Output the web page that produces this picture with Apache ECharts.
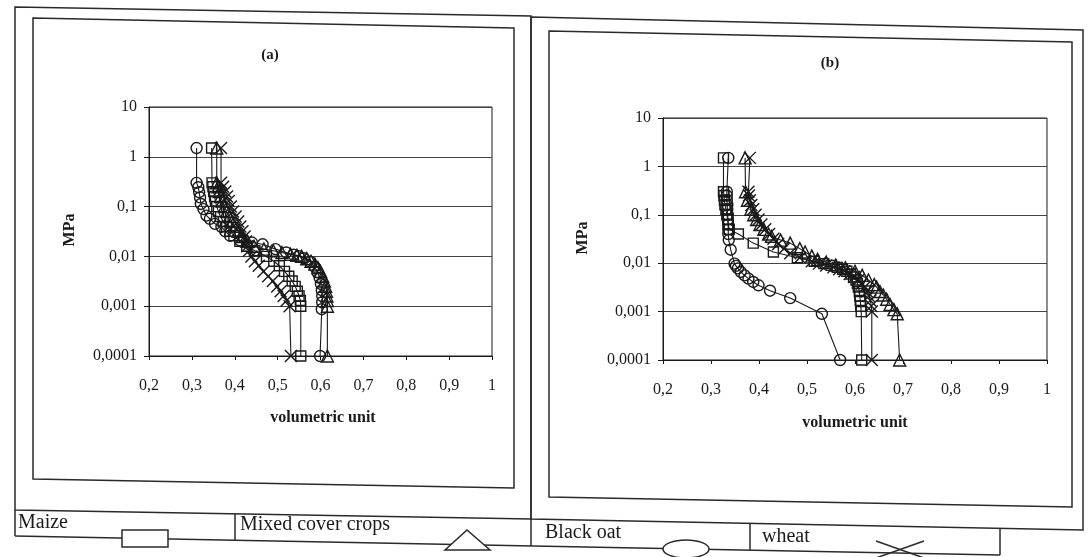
<!DOCTYPE html>
<html><head><meta charset="utf-8">
<script src="https://cdn.jsdelivr.net/npm/echarts/dist/echarts.min.js"></script>
<style>html,body{margin:0;padding:0;background:#fff}#c{width:1089px;height:557px}</style>
</head><body><div id="c"></div>
<script>
// ---- tick labels / names ----
const xTickLabels = ['0,2','0,3','0,4','0,5','0,6','0,7','0,8','0,9','1'];
const yTickLabels = ['0,0001','0,001','0,01','0,1','1','10'];
const seriesNames = ['Maize','Mixed cover crops','Black oat','wheat'];
const panelTitles = ['(a)','(b)'];
const xAxisName = 'volumetric unit';
const yAxisName = 'MPa';

// ---- panel (a) ----
const maizeA_p = [1.5,0.3,0.25,0.2,0.16,0.13,0.1,0.08,0.063,0.05,0.04,0.032,0.026,0.02,0.016,0.013,0.01,0.008,0.0065,0.005,0.004,0.0032,0.0025,0.002,0.0016,0.0013,0.001,0.0001];
const maizeA_v = [0.346,0.347,0.349,0.351,0.353,0.355,0.358,0.362,0.367,0.373,0.381,0.389,0.398,0.412,0.428,0.447,0.474,0.491,0.504,0.516,0.526,0.534,0.541,0.546,0.550,0.553,0.554,0.554];

const mixedA_p = [1.5,0.3,0.25,0.2,0.16,0.13,0.1,0.08,0.063,0.05,0.04,0.032,0.025,0.02,0.016,0.014,0.013,0.012,0.011,0.0105,0.01,0.009,0.008,0.007,0.006,0.005,0.004,0.0032,0.0025,0.002,0.0016,0.0013,0.001,0.0001];
const mixedA_v = [0.358,0.358,0.361,0.364,0.367,0.371,0.376,0.381,0.387,0.393,0.400,0.408,0.418,0.430,0.445,0.468,0.490,0.510,0.530,0.545,0.556,0.568,0.578,0.587,0.594,0.600,0.605,0.609,0.612,0.614,0.615,0.616,0.616,0.616];

const blackA_p = [1.5,0.3,0.245,0.195,0.153,0.113,0.089,0.066,0.057,0.045,0.039,0.032,0.026,0.021,0.019,0.0175,0.014,0.012,0.0108,0.0101,0.0092,0.0078,0.0062,0.0048,0.0037,0.0028,0.0021,0.0016,0.0012,0.00087,0.0001];
const blackA_v = [0.311,0.311,0.315,0.317,0.319,0.321,0.327,0.334,0.342,0.354,0.369,0.378,0.389,0.412,0.440,0.465,0.495,0.520,0.537,0.549,0.561,0.576,0.586,0.593,0.598,0.601,0.603,0.604,0.604,0.603,0.599];

const wheatA_p = [1.5,0.3,0.25,0.2,0.16,0.13,0.1,0.08,0.063,0.05,0.04,0.032,0.025,0.02,0.016,0.013,0.01,0.008,0.0065,0.005,0.004,0.0032,0.0025,0.002,0.0016,0.0013,0.001,0.0001];
const wheatA_v = [0.368,0.368,0.373,0.378,0.382,0.386,0.391,0.396,0.402,0.408,0.413,0.418,0.423,0.426,0.429,0.433,0.439,0.447,0.456,0.467,0.478,0.489,0.499,0.507,0.514,0.521,0.528,0.531];

// ---- panel (b) ----
const maizeB_p = [1.5,0.3,0.25,0.2,0.16,0.13,0.1,0.08,0.063,0.05,0.04,0.026,0.017,0.013,0.011,0.0098,0.009,0.0082,0.0075,0.0068,0.006,0.0052,0.0045,0.0038,0.0032,0.0026,0.0021,0.0017,0.0013,0.001,0.0001];
const maizeB_v = [0.326,0.326,0.327,0.328,0.329,0.331,0.333,0.335,0.336,0.338,0.357,0.388,0.430,0.480,0.515,0.535,0.550,0.563,0.574,0.583,0.591,0.597,0.602,0.605,0.607,0.609,0.610,0.611,0.612,0.613,0.614];

const mixedB_p = [1.5,0.3,0.2,0.13,0.1,0.08,0.063,0.05,0.04,0.036,0.03,0.026,0.02,0.017,0.014,0.012,0.0105,0.0092,0.008,0.0068,0.0056,0.0045,0.0036,0.0032,0.0026,0.0022,0.0018,0.0014,0.0011,0.0009,0.0001];
const mixedB_v = [0.371,0.372,0.376,0.383,0.389,0.395,0.402,0.410,0.420,0.426,0.445,0.465,0.485,0.496,0.510,0.522,0.540,0.560,0.580,0.600,0.615,0.628,0.640,0.645,0.652,0.659,0.666,0.673,0.681,0.688,0.693];

const blackB_p = [1.5,0.3,0.25,0.2,0.16,0.13,0.1,0.08,0.063,0.05,0.04,0.03,0.019,0.0098,0.0088,0.0078,0.0066,0.0056,0.0048,0.0041,0.0035,0.0027,0.0019,0.0009,0.0001];
const blackB_v = [0.336,0.333,0.333,0.333,0.334,0.334,0.335,0.335,0.336,0.336,0.336,0.337,0.341,0.349,0.352,0.356,0.362,0.370,0.378,0.388,0.399,0.423,0.465,0.531,0.569];

const wheatB_p = [1.5,0.3,0.25,0.2,0.16,0.13,0.1,0.08,0.063,0.05,0.04,0.032,0.025,0.02,0.016,0.013,0.011,0.0098,0.009,0.0082,0.0075,0.0068,0.006,0.0052,0.0045,0.0038,0.0032,0.0026,0.0021,0.0017,0.0013,0.001,0.0001];
const wheatB_v = [0.381,0.378,0.379,0.381,0.384,0.388,0.393,0.399,0.405,0.413,0.421,0.430,0.440,0.452,0.465,0.485,0.510,0.525,0.540,0.555,0.567,0.578,0.589,0.598,0.607,0.614,0.620,0.625,0.629,0.632,0.634,0.635,0.635];

// ---- build ----
const INK = '#1a1a1a';
const FONT = '"Liberation Serif", "DejaVu Serif", serif';
const symbols = ['rect','triangle','circle','path://M0,0L10,10M10,0L0,10'];
const symbolSizes = [10,12,11,12];
function pts(p, v){ return p.map((pp,i)=>[v[i], pp]); }
const panelData = [
  [[maizeA_p,maizeA_v],[mixedA_p,mixedA_v],[blackA_p,blackA_v],[wheatA_p,wheatA_v]],
  [[maizeB_p,maizeB_v],[mixedB_p,mixedB_v],[blackB_p,blackB_v],[wheatB_p,wheatB_v]]
];
const series = [];
panelData.forEach((panel, gi)=>{
  panel.forEach((s, si)=>{
    series.push({
      type:'line', name: seriesNames[si], xAxisIndex: gi, yAxisIndex: gi,
      data: pts(s[0], s[1]), symbol: symbols[si], symbolSize: symbolSizes[si],
      showAllSymbol: true, clip: false, animation: false,
      lineStyle:{color: INK, width: 1.1},
      itemStyle:{color:'rgba(255,255,255,0)', borderColor: INK, borderWidth: 1.4},
      emphasis:{disabled:true}
    });
  });
});

const grids = [
  {left:149, top:107, width:343, height:249},
  {left:663, top:118, width:384, height:242}
];
function xAx(gi){
  return {type:'value', gridIndex:gi, min:0.2, max:1, interval:0.1,
    axisLine:{lineStyle:{color:INK,width:1}}, axisTick:{show:true,length:4,lineStyle:{color:INK}},
    splitLine:{show:false},
    axisLabel:{margin:22, color:INK, fontFamily:FONT, fontSize:16,
      formatter:(v)=>{const k=Math.round((v-0.2)*10); return xTickLabels[k]===undefined?'':xTickLabels[k];}}};
}
function yAx(gi){
  return {type:'log', logBase:10, gridIndex:gi, min:0.0001, max:10,
    axisLine:{show:true,lineStyle:{color:INK,width:1}}, axisTick:{show:true,length:5,lineStyle:{color:INK}},
    splitLine:{show:true,lineStyle:{color:'#444',width:1}},
    minorTick:{show:false}, minorSplitLine:{show:false},
    axisLabel:{margin:12, color:INK, fontFamily:FONT, fontSize:16,
      formatter:(v)=>{const k=Math.round(Math.log10(v))+4; return yTickLabels[k]===undefined?'':yTickLabels[k];}}};
}

const boxStyle = {fill:'none', stroke:'#2a2a2a', lineWidth:1.5};
const lineStyle = {stroke:'#2a2a2a', lineWidth:1.5};
const wStyle = {fill:'#fff', stroke:'#2a2a2a', lineWidth:1.5};
const graphic = [
  // panel frames
  {type:'polygon', shape:{points:[[15,7],[531,16],[531,519],[15,510]]}, style:boxStyle, silent:true},
  {type:'polygon', shape:{points:[[531,17],[1083,30],[1083,530],[531,519]]}, style:boxStyle, silent:true},
  {type:'polygon', shape:{points:[[33,18],[514,28],[514,488],[33,479]]}, style:boxStyle, silent:true},
  {type:'polygon', shape:{points:[[549,31],[1072,42],[1072,507],[549,497]]}, style:boxStyle, silent:true},
  // legend table
  {type:'line', shape:{x1:15,y1:510,x2:15,y2:536}, style:lineStyle, silent:true},
  {type:'line', shape:{x1:235,y1:514,x2:235,y2:540}, style:lineStyle, silent:true},
  {type:'line', shape:{x1:531,y1:519,x2:531,y2:546}, style:lineStyle, silent:true},
  {type:'line', shape:{x1:750,y1:524,x2:750,y2:550}, style:lineStyle, silent:true},
  {type:'line', shape:{x1:1000,y1:528,x2:1000,y2:555}, style:lineStyle, silent:true},
  {type:'line', shape:{x1:15,y1:536,x2:1000,y2:555}, style:lineStyle, silent:true},
  {type:'rect', shape:{x:122,y:530,width:46,height:17}, style:wStyle, silent:true},
  {type:'polygon', shape:{points:[[445,550],[490,550],[467,530]]}, style:wStyle, silent:true},
  {type:'ellipse', shape:{cx:686,cy:549,rx:23,ry:9}, style:wStyle, silent:true},
  {type:'line', shape:{x1:876,y1:541,x2:924,y2:558}, style:lineStyle, silent:true},
  {type:'line', shape:{x1:876,y1:558,x2:924,y2:541}, style:lineStyle, silent:true},
  {type:'text', x:18, y:523, style:{text:seriesNames[0], font:'20px '+FONT, fill:INK, textVerticalAlign:'middle'}, silent:true},
  {type:'text', x:240, y:525, style:{text:seriesNames[1], font:'20px '+FONT, fill:INK, textVerticalAlign:'middle'}, silent:true},
  {type:'text', x:545, y:533, style:{text:seriesNames[2], font:'20px '+FONT, fill:INK, textVerticalAlign:'middle'}, silent:true},
  {type:'text', x:762, y:537, style:{text:seriesNames[3], font:'20px '+FONT, fill:INK, textVerticalAlign:'middle'}, silent:true},
  // titles and axis names
  {type:'text', x:270, y:55, style:{text:panelTitles[0], font:'bold 15px '+FONT, fill:INK, textAlign:'center', textVerticalAlign:'middle'}, silent:true},
  {type:'text', x:830, y:63, style:{text:panelTitles[1], font:'bold 15px '+FONT, fill:INK, textAlign:'center', textVerticalAlign:'middle'}, silent:true},
  {type:'text', x:70, y:230, rotation:Math.PI/2, style:{text:yAxisName, font:'bold 16px '+FONT, fill:INK, textAlign:'center', textVerticalAlign:'middle'}, silent:true},
  {type:'text', x:583, y:238, rotation:Math.PI/2, style:{text:yAxisName, font:'bold 16px '+FONT, fill:INK, textAlign:'center', textVerticalAlign:'middle'}, silent:true},
  {type:'text', x:323, y:418, style:{text:xAxisName, font:'bold 16px '+FONT, fill:INK, textAlign:'center', textVerticalAlign:'middle'}, silent:true},
  {type:'text', x:855, y:423, style:{text:xAxisName, font:'bold 16px '+FONT, fill:INK, textAlign:'center', textVerticalAlign:'middle'}, silent:true}
];

const chart = echarts.init(document.getElementById('c'), null, {renderer:'canvas'});
chart.setOption({
  backgroundColor:'#ffffff',
  animation:false,
  grid: grids.map(g=>Object.assign({show:true, borderColor:INK, borderWidth:1, backgroundColor:'#fff', containLabel:false}, g)),
  xAxis:[xAx(0), xAx(1)],
  yAxis:[yAx(0), yAx(1)],
  series: series,
  graphic: graphic
});
</script>
</body></html>
